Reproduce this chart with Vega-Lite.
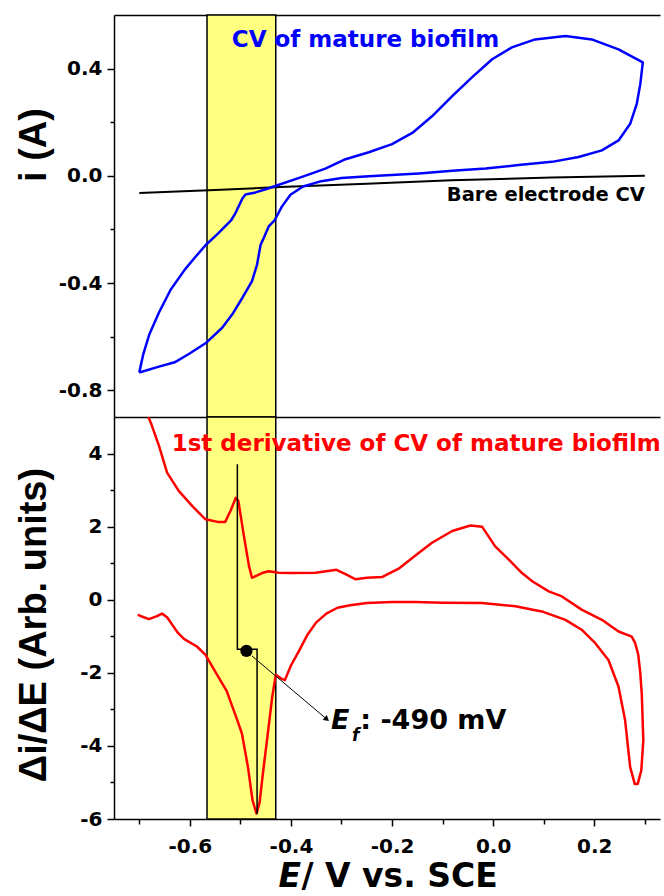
{
  "$schema": "https://vega.github.io/schema/vega-lite/v6.json",
  "background": "white",
  "padding": {"left": 15, "top": 14, "right": 0, "bottom": 0},
  "config": {"view": {"stroke": null}},
  "spacing": 0,
  "bounds": "flush",
  "datasets": {
    "band": [{"x1": -0.566, "x2": -0.43}],
    "bare": [
      {"k": 1, "E": -0.7, "i": -0.064}, {"k": 2, "E": -0.55, "i": -0.053}, {"k": 3, "E": -0.434, "i": -0.043},
      {"k": 4, "E": -0.25, "i": -0.03}, {"k": 5, "E": -0.082, "i": -0.017}, {"k": 6, "E": 0.116, "i": -0.006}, {"k": 7, "E": 0.3, "i": 0.0}
    ],
    "cv": [
      {"k": 1, "E": -0.700, "i": -0.734}, {"k": 2, "E": -0.692, "i": -0.665}, {"k": 3, "E": -0.680, "i": -0.591},
      {"k": 4, "E": -0.661, "i": -0.510}, {"k": 5, "E": -0.638, "i": -0.425}, {"k": 6, "E": -0.610, "i": -0.350},
      {"k": 7, "E": -0.590, "i": -0.305}, {"k": 8, "E": -0.569, "i": -0.259}, {"k": 9, "E": -0.544, "i": -0.215},
      {"k": 10, "E": -0.518, "i": -0.165}, {"k": 11, "E": -0.510, "i": -0.140}, {"k": 12, "E": -0.496, "i": -0.085},
      {"k": 13, "E": -0.490, "i": -0.070}, {"k": 14, "E": -0.470, "i": -0.062}, {"k": 15, "E": -0.450, "i": -0.050},
      {"k": 16, "E": -0.434, "i": -0.040}, {"k": 17, "E": -0.378, "i": -0.004}, {"k": 18, "E": -0.332, "i": 0.027},
      {"k": 19, "E": -0.292, "i": 0.062}, {"k": 20, "E": -0.246, "i": 0.088}, {"k": 21, "E": -0.200, "i": 0.118},
      {"k": 22, "E": -0.160, "i": 0.160}, {"k": 23, "E": -0.121, "i": 0.222}, {"k": 24, "E": -0.081, "i": 0.297},
      {"k": 25, "E": -0.042, "i": 0.367}, {"k": 26, "E": -0.002, "i": 0.435}, {"k": 27, "E": 0.037, "i": 0.479},
      {"k": 28, "E": 0.083, "i": 0.509}, {"k": 29, "E": 0.143, "i": 0.522}, {"k": 30, "E": 0.195, "i": 0.509},
      {"k": 31, "E": 0.248, "i": 0.472}, {"k": 32, "E": 0.296, "i": 0.423}, {"k": 33, "E": 0.291, "i": 0.342},
      {"k": 34, "E": 0.284, "i": 0.268}, {"k": 35, "E": 0.271, "i": 0.194}, {"k": 36, "E": 0.248, "i": 0.132},
      {"k": 37, "E": 0.215, "i": 0.095}, {"k": 38, "E": 0.169, "i": 0.070}, {"k": 39, "E": 0.116, "i": 0.052},
      {"k": 40, "E": 0.050, "i": 0.040}, {"k": 41, "E": -0.015, "i": 0.027}, {"k": 42, "E": -0.081, "i": 0.019},
      {"k": 43, "E": -0.147, "i": 0.009}, {"k": 44, "E": -0.246, "i": -0.002}, {"k": 45, "E": -0.300, "i": -0.008},
      {"k": 46, "E": -0.340, "i": -0.020}, {"k": 47, "E": -0.376, "i": -0.040}, {"k": 48, "E": -0.401, "i": -0.071},
      {"k": 49, "E": -0.418, "i": -0.115}, {"k": 50, "E": -0.432, "i": -0.165}, {"k": 51, "E": -0.444, "i": -0.189},
      {"k": 52, "E": -0.454, "i": -0.233}, {"k": 53, "E": -0.460, "i": -0.257}, {"k": 54, "E": -0.467, "i": -0.331},
      {"k": 55, "E": -0.477, "i": -0.393}, {"k": 56, "E": -0.496, "i": -0.455}, {"k": 57, "E": -0.516, "i": -0.517},
      {"k": 58, "E": -0.536, "i": -0.567}, {"k": 59, "E": -0.569, "i": -0.625}, {"k": 60, "E": -0.602, "i": -0.665},
      {"k": 61, "E": -0.630, "i": -0.696}, {"k": 62, "E": -0.661, "i": -0.712}, {"k": 63, "E": -0.700, "i": -0.734}
    ],
    "deriv": [
      {"k": 1, "E": -0.703, "d": -0.41}, {"k": 2, "E": -0.695, "d": -0.46}, {"k": 3, "E": -0.681, "d": -0.53},
      {"k": 4, "E": -0.665, "d": -0.45}, {"k": 5, "E": -0.655, "d": -0.38}, {"k": 6, "E": -0.645, "d": -0.48},
      {"k": 7, "E": -0.624, "d": -0.90}, {"k": 8, "E": -0.611, "d": -1.08}, {"k": 9, "E": -0.586, "d": -1.28},
      {"k": 10, "E": -0.569, "d": -1.51}, {"k": 11, "E": -0.548, "d": -2.01}, {"k": 12, "E": -0.527, "d": -2.50},
      {"k": 13, "E": -0.506, "d": -3.30}, {"k": 14, "E": -0.497, "d": -3.66}, {"k": 15, "E": -0.485, "d": -4.58},
      {"k": 16, "E": -0.476, "d": -5.49}, {"k": 17, "E": -0.468, "d": -5.85}, {"k": 18, "E": -0.462, "d": -5.55},
      {"k": 19, "E": -0.455, "d": -4.70}, {"k": 20, "E": -0.447, "d": -3.80}, {"k": 21, "E": -0.437, "d": -2.66},
      {"k": 22, "E": -0.430, "d": -2.05}, {"k": 23, "E": -0.420, "d": -2.15}, {"k": 24, "E": -0.412, "d": -2.20},
      {"k": 25, "E": -0.400, "d": -1.80}, {"k": 26, "E": -0.384, "d": -1.40}, {"k": 27, "E": -0.367, "d": -0.95},
      {"k": 28, "E": -0.350, "d": -0.62}, {"k": 29, "E": -0.330, "d": -0.38}, {"k": 30, "E": -0.308, "d": -0.22},
      {"k": 31, "E": -0.283, "d": -0.15}, {"k": 32, "E": -0.250, "d": -0.09}, {"k": 33, "E": -0.200, "d": -0.06},
      {"k": 34, "E": -0.154, "d": -0.06}, {"k": 35, "E": -0.100, "d": -0.08}, {"k": 36, "E": -0.022, "d": -0.09},
      {"k": 37, "E": 0.044, "d": -0.18}, {"k": 38, "E": 0.096, "d": -0.32}, {"k": 39, "E": 0.143, "d": -0.55},
      {"k": 40, "E": 0.175, "d": -0.82}, {"k": 41, "E": 0.202, "d": -1.19}, {"k": 42, "E": 0.228, "d": -1.65},
      {"k": 43, "E": 0.248, "d": -2.38}, {"k": 44, "E": 0.261, "d": -3.30}, {"k": 45, "E": 0.271, "d": -4.58},
      {"k": 46, "E": 0.280, "d": -5.04}, {"k": 47, "E": 0.286, "d": -5.04}, {"k": 48, "E": 0.293, "d": -4.67},
      {"k": 49, "E": 0.297, "d": -3.85}, {"k": 50, "E": 0.294, "d": -2.60}, {"k": 51, "E": 0.291, "d": -2.00},
      {"k": 52, "E": 0.287, "d": -1.50}, {"k": 53, "E": 0.281, "d": -1.19}, {"k": 54, "E": 0.274, "d": -1.01},
      {"k": 55, "E": 0.248, "d": -0.87}, {"k": 56, "E": 0.215, "d": -0.55}, {"k": 57, "E": 0.175, "d": -0.27},
      {"k": 58, "E": 0.136, "d": 0.09}, {"k": 59, "E": 0.110, "d": 0.23}, {"k": 60, "E": 0.078, "d": 0.50},
      {"k": 61, "E": 0.057, "d": 0.73}, {"k": 62, "E": 0.031, "d": 1.10}, {"k": 63, "E": 0.004, "d": 1.46},
      {"k": 64, "E": -0.022, "d": 2.00}, {"k": 65, "E": -0.045, "d": 2.03}, {"k": 66, "E": -0.081, "d": 1.88},
      {"k": 67, "E": -0.121, "d": 1.56}, {"k": 68, "E": -0.150, "d": 1.25}, {"k": 69, "E": -0.187, "d": 0.85},
      {"k": 70, "E": -0.220, "d": 0.62}, {"k": 71, "E": -0.250, "d": 0.60}, {"k": 72, "E": -0.272, "d": 0.56},
      {"k": 73, "E": -0.292, "d": 0.70}, {"k": 74, "E": -0.310, "d": 0.82}, {"k": 75, "E": -0.351, "d": 0.74},
      {"k": 76, "E": -0.400, "d": 0.73}, {"k": 77, "E": -0.424, "d": 0.74}, {"k": 78, "E": -0.444, "d": 0.78},
      {"k": 79, "E": -0.457, "d": 0.73}, {"k": 80, "E": -0.477, "d": 0.60}, {"k": 81, "E": -0.483, "d": 0.92},
      {"k": 82, "E": -0.493, "d": 1.74}, {"k": 83, "E": -0.504, "d": 2.70}, {"k": 84, "E": -0.509, "d": 2.79},
      {"k": 85, "E": -0.519, "d": 2.45}, {"k": 86, "E": -0.530, "d": 2.13}, {"k": 87, "E": -0.545, "d": 2.13},
      {"k": 88, "E": -0.569, "d": 2.20}, {"k": 89, "E": -0.595, "d": 2.56}, {"k": 90, "E": -0.622, "d": 2.98},
      {"k": 91, "E": -0.645, "d": 3.48}, {"k": 92, "E": -0.661, "d": 4.21}, {"k": 93, "E": -0.676, "d": 4.80},
      {"k": 94, "E": -0.682, "d": 5.00}
    ],
    "bracket": [
      {"k": 1, "E": -0.506, "d": 3.71}, {"k": 2, "E": -0.506, "d": -1.357},
      {"k": 3, "E": -0.467, "d": -1.357}, {"k": 4, "E": -0.467, "d": -5.86}
    ],
    "arrow": [{"k": 1, "E": -0.477, "d": -1.54}, {"k": 2, "E": -0.329, "d": -3.27}],
    "dot": [{"E": -0.488, "d": -1.40}],
    "tip": [{"E": -0.329, "d": -3.27}]
  },
  "vconcat": [
    {
      "width": 546,
      "height": 402,
      "layer": [
        {
          "data": {"name": "band"},
          "mark": {"type": "rect", "fill": "#ffff80", "stroke": "#000000", "strokeWidth": 1.5},
          "encoding": {
            "x": {"field": "x1", "type": "quantitative", "scale": {"domain": [-0.75, 0.33], "nice": false, "zero": false},
              "axis": {"orient": "top", "labels": false, "ticks": false, "domain": true, "domainColor": "#000000", "domainWidth": 1.5, "title": null, "grid": false}},
            "x2": {"field": "x2"}
          }
        },
        {
          "data": {"name": "bare"},
          "mark": {"type": "line", "color": "#000000", "strokeWidth": 2},
          "encoding": {
            "x": {"field": "E", "type": "quantitative", "scale": {"domain": [-0.75, 0.33], "nice": false, "zero": false}, "axis": null},
            "y": {"field": "i", "type": "quantitative", "scale": {"domain": [-0.9, 0.6], "nice": false, "zero": false},
              "axis": {
                "orient": "left", "grid": false,
                "values": [-0.8, -0.6, -0.4, -0.2, 0, 0.2, 0.4],
                "labelExpr": "round(datum.value*10) % 4 == 0 ? (datum.value < 0 ? '-' : '') + format(abs(datum.value), '.1f') : ''",
                "tickSize": {"condition": {"test": "round(datum.value*10) % 4 == 0", "value": 7}, "value": 4},
                "tickColor": "#000000", "tickWidth": 1.5,
                "domainColor": "#000000", "domainWidth": 1.5,
                "labelFont": "DejaVu Sans", "labelFontWeight": "bold", "labelFontSize": 20, "labelColor": "#000000", "labelPadding": 5,
                "title": "i (A)", "titleFont": "Liberation Sans", "titleFontWeight": "bold", "titleFontSize": 38, "titleColor": "#000000",
                "titleX": -61, "titleY": 129.5
              }},
            "order": {"field": "k"}
          }
        },
        {
          "data": {"name": "cv"},
          "mark": {"type": "line", "color": "#0000ff", "strokeWidth": 2.5, "strokeJoin": "round"},
          "encoding": {
            "x": {"field": "E", "type": "quantitative", "scale": {"domain": [-0.75, 0.33], "nice": false, "zero": false},
              "axis": {"orient": "bottom", "labels": false, "ticks": false, "domain": true, "domainColor": "#000000", "domainWidth": 1.5, "title": null, "grid": false}},
            "y": {"field": "i", "type": "quantitative", "scale": {"domain": [-0.9, 0.6], "nice": false, "zero": false}, "axis": null},
            "order": {"field": "k"}
          }
        },
        {
          "data": {"values": [{"E": -0.517, "i": 0.479, "t": "CV of mature biofilm"}]},
          "mark": {"type": "text", "align": "left", "baseline": "alphabetic", "font": "DejaVu Sans", "fontWeight": "bold", "fontSize": 23, "color": "#0000ff"},
          "encoding": {
            "x": {"field": "E", "type": "quantitative", "scale": {"domain": [-0.75, 0.33], "nice": false, "zero": false}, "axis": null},
            "y": {"field": "i", "type": "quantitative", "scale": {"domain": [-0.9, 0.6], "nice": false, "zero": false}, "axis": null},
            "text": {"field": "t"}
          }
        },
        {
          "data": {"values": [{"E": 0.3, "i": -0.094, "t": "Bare electrode CV"}]},
          "mark": {"type": "text", "align": "right", "baseline": "alphabetic", "font": "DejaVu Sans", "fontWeight": "bold", "fontSize": 19.5, "color": "#000000"},
          "encoding": {
            "x": {"field": "E", "type": "quantitative", "scale": {"domain": [-0.75, 0.33], "nice": false, "zero": false}, "axis": null},
            "y": {"field": "i", "type": "quantitative", "scale": {"domain": [-0.9, 0.6], "nice": false, "zero": false}, "axis": null},
            "text": {"field": "t"}
          }
        }
      ],
      "resolve": {"axis": {"x": "independent", "y": "independent"}}
    },
    {
      "width": 546,
      "height": 402,
      "layer": [
        {
          "data": {"name": "band"},
          "mark": {"type": "rect", "fill": "#ffff80", "stroke": "#000000", "strokeWidth": 1.5},
          "encoding": {
            "x": {"field": "x1", "type": "quantitative", "scale": {"domain": [-0.75, 0.33], "nice": false, "zero": false},
              "axis": {
                "orient": "bottom", "grid": false,
                "values": [-0.7, -0.6, -0.5, -0.4, -0.3, -0.2, -0.1, 0, 0.1, 0.2, 0.3],
                "labelExpr": "round(datum.value*10) % 2 == 0 ? (datum.value < 0 ? '-' : '') + format(abs(datum.value), '.1f') : ''",
                "tickSize": {"condition": {"test": "round(datum.value*10) % 2 == 0", "value": 7}, "value": 5},
                "tickColor": "#000000", "tickWidth": 1.5,
                "domainColor": "#000000", "domainWidth": 1.5,
                "labelFont": "DejaVu Sans", "labelFontWeight": "bold", "labelFontSize": 20, "labelColor": "#000000", "labelPadding": 10,
                "title": "/ V vs. SCE", "titleFont": "DejaVu Sans", "titleFontWeight": "bold", "titleFontSize": 33, "titleColor": "#000000",
                "titleAlign": "left", "titleBaseline": "alphabetic", "titleX": 187, "titleY": 67
              }},
            "x2": {"field": "x2"}
          }
        },
        {
          "data": {"name": "deriv"},
          "mark": {"type": "line", "color": "#ff0000", "strokeWidth": 2.5, "strokeJoin": "round", "clip": true},
          "encoding": {
            "x": {"field": "E", "type": "quantitative", "scale": {"domain": [-0.75, 0.33], "nice": false, "zero": false},
              "axis": {"orient": "bottom", "labels": false, "ticks": false, "domain": false, "grid": false,
                "title": "E", "titleFont": "DejaVu Sans", "titleFontWeight": "bold", "titleFontStyle": "italic", "titleFontSize": 33, "titleColor": "#000000",
                "titleAlign": "left", "titleBaseline": "alphabetic", "titleX": 164, "titleY": 67}},
            "y": {"field": "d", "type": "quantitative", "scale": {"domain": [-6, 5], "nice": false, "zero": false},
              "axis": {
                "orient": "left", "grid": false,
                "values": [-6, -5, -4, -3, -2, -1, 0, 1, 2, 3, 4],
                "labelExpr": "round(datum.value) % 2 == 0 ? (datum.value < 0 ? '-' : '') + format(abs(datum.value), 'd') : ''",
                "tickSize": {"condition": {"test": "round(datum.value) % 2 == 0", "value": 7}, "value": 4},
                "tickColor": "#000000", "tickWidth": 1.5,
                "domainColor": "#000000", "domainWidth": 1.5,
                "labelFont": "DejaVu Sans", "labelFontWeight": "bold", "labelFontSize": 20, "labelColor": "#000000", "labelPadding": 5,
                "title": "Δi/ΔE (Arb. units)", "titleFont": "Liberation Sans", "titleFontWeight": "bold", "titleFontSize": 38, "titleColor": "#000000",
                "titleX": -61, "titleY": 207.5
              }},
            "order": {"field": "k"}
          }
        },
        {
          "data": {"name": "bracket"},
          "mark": {"type": "line", "color": "#000000", "strokeWidth": 1.5},
          "encoding": {
            "x": {"field": "E", "type": "quantitative", "scale": {"domain": [-0.75, 0.33], "nice": false, "zero": false}, "axis": null},
            "y": {"field": "d", "type": "quantitative", "scale": {"domain": [-6, 5], "nice": false, "zero": false}, "axis": null},
            "order": {"field": "k"}
          }
        },
        {
          "data": {"name": "arrow"},
          "mark": {"type": "line", "color": "#000000", "strokeWidth": 1},
          "encoding": {
            "x": {"field": "E", "type": "quantitative", "scale": {"domain": [-0.75, 0.33], "nice": false, "zero": false}, "axis": null},
            "y": {"field": "d", "type": "quantitative", "scale": {"domain": [-6, 5], "nice": false, "zero": false}, "axis": null},
            "order": {"field": "k"}
          }
        },
        {
          "data": {"name": "dot"},
          "mark": {"type": "point", "filled": true, "shape": "circle", "size": 150, "color": "#000000", "opacity": 1},
          "encoding": {
            "x": {"field": "E", "type": "quantitative", "scale": {"domain": [-0.75, 0.33], "nice": false, "zero": false}, "axis": null},
            "y": {"field": "d", "type": "quantitative", "scale": {"domain": [-6, 5], "nice": false, "zero": false}, "axis": null}
          }
        },
        {
          "data": {"name": "tip"},
          "mark": {"type": "point", "filled": true, "shape": "triangle-right", "size": 40, "angle": 40, "color": "#000000", "opacity": 1},
          "encoding": {
            "x": {"field": "E", "type": "quantitative", "scale": {"domain": [-0.75, 0.33], "nice": false, "zero": false}, "axis": null},
            "y": {"field": "d", "type": "quantitative", "scale": {"domain": [-6, 5], "nice": false, "zero": false}, "axis": null}
          }
        },
        {
          "data": {"values": [{"E": -0.636, "d": 4.08, "t": "1st derivative of CV of mature biofilm"}]},
          "mark": {"type": "text", "align": "left", "baseline": "alphabetic", "font": "DejaVu Sans", "fontWeight": "bold", "fontSize": 23, "color": "#ff0000"},
          "encoding": {
            "x": {"field": "E", "type": "quantitative", "scale": {"domain": [-0.75, 0.33], "nice": false, "zero": false}, "axis": null},
            "y": {"field": "d", "type": "quantitative", "scale": {"domain": [-6, 5], "nice": false, "zero": false}, "axis": null},
            "text": {"field": "t"}
          }
        },
        {
          "data": {"values": [{"E": -0.321, "d": -3.54, "t": "E"}]},
          "mark": {"type": "text", "align": "left", "baseline": "alphabetic", "font": "DejaVu Sans", "fontWeight": "bold", "fontStyle": "italic", "fontSize": 27, "color": "#000000"},
          "encoding": {
            "x": {"field": "E", "type": "quantitative", "scale": {"domain": [-0.75, 0.33], "nice": false, "zero": false}, "axis": null},
            "y": {"field": "d", "type": "quantitative", "scale": {"domain": [-6, 5], "nice": false, "zero": false}, "axis": null},
            "text": {"field": "t"}
          }
        },
        {
          "data": {"values": [{"E": -0.279, "d": -3.866, "t": "f"}]},
          "mark": {"type": "text", "align": "left", "baseline": "alphabetic", "font": "DejaVu Sans", "fontWeight": "bold", "fontStyle": "italic", "fontSize": 17, "color": "#000000"},
          "encoding": {
            "x": {"field": "E", "type": "quantitative", "scale": {"domain": [-0.75, 0.33], "nice": false, "zero": false}, "axis": null},
            "y": {"field": "d", "type": "quantitative", "scale": {"domain": [-6, 5], "nice": false, "zero": false}, "axis": null},
            "text": {"field": "t"}
          }
        },
        {
          "data": {"values": [{"E": -0.263, "d": -3.54, "t": ": -490 mV"}]},
          "mark": {"type": "text", "align": "left", "baseline": "alphabetic", "font": "DejaVu Sans", "fontWeight": "bold", "fontSize": 27, "color": "#000000"},
          "encoding": {
            "x": {"field": "E", "type": "quantitative", "scale": {"domain": [-0.75, 0.33], "nice": false, "zero": false}, "axis": null},
            "y": {"field": "d", "type": "quantitative", "scale": {"domain": [-6, 5], "nice": false, "zero": false}, "axis": null},
            "text": {"field": "t"}
          }
        }
      ],
      "resolve": {"axis": {"x": "independent", "y": "independent"}}
    }
  ]
}
